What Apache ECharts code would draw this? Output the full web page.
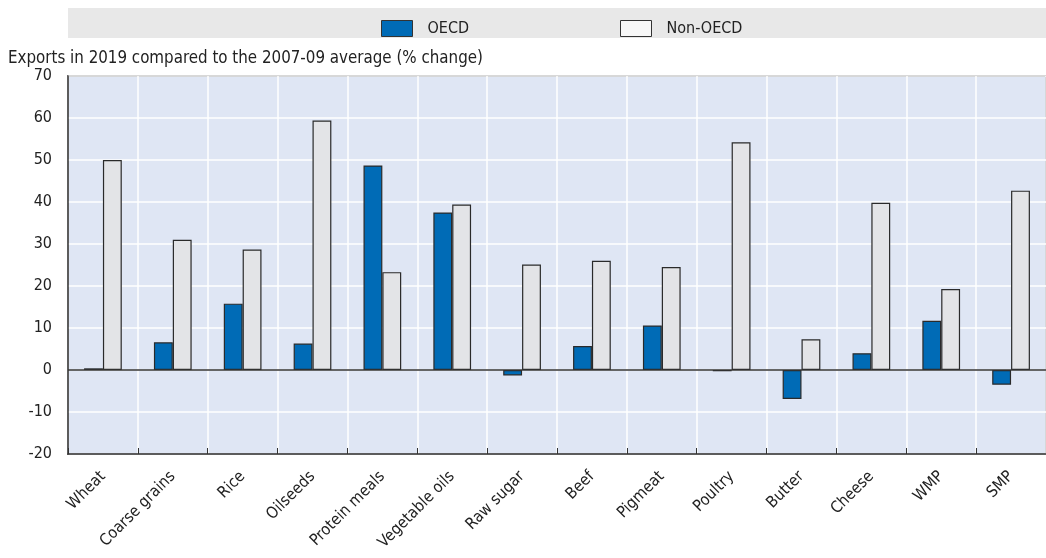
<!DOCTYPE html>
<html><head><meta charset="utf-8">
<script src="https://cdn.jsdelivr.net/npm/echarts@6/dist/echarts.min.js"></script>
<style>html,body{margin:0;padding:0;background:#fff}#c{width:1046px;height:558px}</style>
</head><body><div id="c"></div>
<script>
const categories = ["Wheat","Coarse grains","Rice","Oilseeds","Protein meals","Vegetable oils","Raw sugar","Beef","Pigmeat","Poultry","Butter","Cheese","WMP","SMP"];
const oecd = [0.4, 6.6, 15.8, 6.3, 48.7, 37.5, -1.3, 5.7, 10.6, -0.3, -6.9, 4.0, 11.7, -3.5];
const nonOecd = [50.0, 31.0, 28.7, 59.4, 23.3, 39.4, 25.1, 26.0, 24.5, 54.2, 7.3, 39.8, 19.3, 42.7];
const axisTitle = "Exports in 2019 compared to the 2007-09 average (% change)";

const FONT = "'Liberation Sans Narrow', 'DejaVu Sans Condensed', Arial, sans-serif";
const chart = echarts.init(document.getElementById('c'), null, {renderer:'canvas'});
chart.setOption({
  animation: false,
  textStyle: {fontFamily: FONT},
  graphic: [
    {type:'rect', left:68, top:8, shape:{width:980, height:30}, style:{fill:'#E8E8E8'}, z:-1},
    {type:'text', left:8, top:50, style:{text: axisTitle, font: '16.8px ' + FONT, fill:'#222'}}
  ],
  legend: [
    {left:376, top:15, itemWidth:31, itemHeight:16, icon:'rect', data:[{name:'OECD', itemStyle:{color:'#006BB6', borderColor:'#333', borderWidth:1}}],
     textStyle:{fontSize:16, color:'#222', fontFamily:FONT, padding:[0,0,0,10]}},
    {left:615, top:15, itemWidth:31, itemHeight:16, icon:'rect', data:[{name:'Non-OECD', itemStyle:{color:'#F7F7F7', borderColor:'#333', borderWidth:1}}],
     textStyle:{fontSize:16, color:'#222', fontFamily:FONT, padding:[0,0,0,10]}}
  ],
  grid: {left:68, top:76, width:984, height:378, show:true, backgroundColor:'#DFE6F4', borderColor:'#333', borderWidth:1.5},
  xAxis: {
    type:'category', data: categories,
    axisLine:{onZero:false, lineStyle:{color:'#333', width:1.5}},
    axisTick:{show:true, inside:true, length:6, lineStyle:{color:'#333'}},
    splitLine:{show:true, lineStyle:{color:'#fff', width:1.5}},
    axisLabel:{rotate:45, fontSize:16, color:'#222', margin:20, fontFamily:FONT, interval:0}
  },
  yAxis: {
    type:'value', min:-20, max:70, interval:10,
    axisLine:{show:true, lineStyle:{color:'#333', width:1.5}},
    axisTick:{show:false},
    splitLine:{lineStyle:{color:'#fff', width:1.5}},
    axisLabel:{fontSize:16, color:'#222', margin:16, fontFamily:FONT}
  },
  series: [
    {name:'OECD', type:'bar', data: oecd, barWidth:'27%', barGap:'0%',
     itemStyle:{color:'#006BB6', borderColor:'#2a2a2a', borderWidth:1.2},
     markLine:{silent:true, symbol:'none', label:{show:false}, data:[{yAxis:0}], lineStyle:{color:'#333', type:'solid', width:1.5}}},
    {name:'Non-OECD', type:'bar', data: nonOecd, barWidth:'27%', barGap:'0%',
     itemStyle:{color:'#E3E4E7', borderColor:'#2a2a2a', borderWidth:1.2}}
  ]
});
</script></body></html>
